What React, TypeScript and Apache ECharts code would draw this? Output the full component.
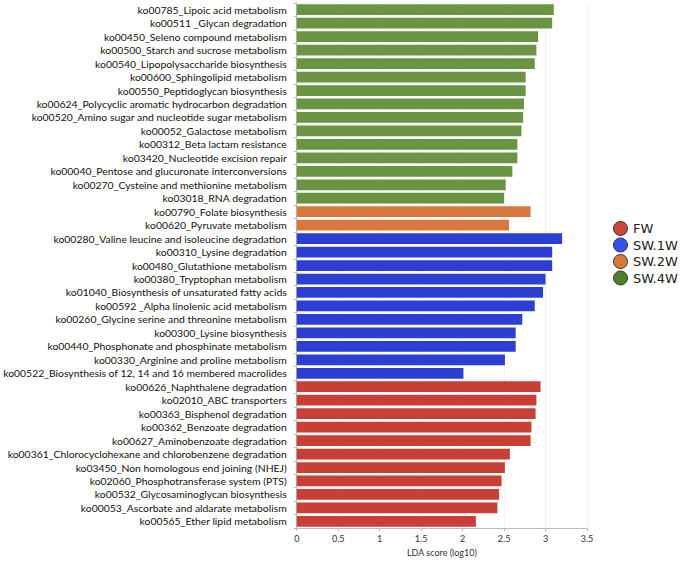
import React, { useEffect, useRef } from "react";
import * as echarts from "echarts";

const categories = [
  "ko00785_Lipoic acid metabolism",
  "ko00511 _Glycan degradation",
  "ko00450_Seleno compound metabolism",
  "ko00500_Starch and sucrose metabolism",
  "ko00540_Lipopolysaccharide biosynthesis",
  "ko00600_Sphingolipid metabolism",
  "ko00550_Peptidoglycan biosynthesis",
  "ko00624_Polycyclic aromatic hydrocarbon degradation",
  "ko00520_Amino sugar and nucleotide sugar metabolism",
  "ko00052_Galactose metabolism",
  "ko00312_Beta lactam resistance",
  "ko03420_Nucleotide excision repair",
  "ko00040_Pentose and glucuronate interconversions",
  "ko00270_Cysteine and methionine metabolism",
  "ko03018_RNA degradation",
  "ko00790_Folate biosynthesis",
  "ko00620_Pyruvate metabolism",
  "ko00280_Valine leucine and isoleucine degradation",
  "ko00310_Lysine degradation",
  "ko00480_Glutathione metabolism",
  "ko00380_Tryptophan metabolism",
  "ko01040_Biosynthesis of unsaturated fatty acids",
  "ko00592 _Alpha linolenic acid metabolism",
  "ko00260_Glycine serine and threonine metabolism",
  "ko00300_Lysine biosynthesis",
  "ko00440_Phosphonate and phosphinate metabolism",
  "ko00330_Arginine and proline metabolism",
  "ko00522_Biosynthesis of 12, 14 and 16 membered macrolides",
  "ko00626_Naphthalene degradation",
  "ko02010_ABC transporters",
  "ko00363_Bisphenol degradation",
  "ko00362_Benzoate degradation",
  "ko00627_Aminobenzoate degradation",
  "ko00361_Chlorocyclohexane and chlorobenzene degradation",
  "ko03450_Non homologous end joining (NHEJ)",
  "ko02060_Phosphotransferase system (PTS)",
  "ko00532_Glycosaminoglycan biosynthesis",
  "ko00053_Ascorbate and aldarate metabolism",
  "ko00565_Ether lipid metabolism",
];

// LDA scores per group, in category order of each group
const sw4wValues = [3.1, 3.08, 2.91, 2.89, 2.87, 2.76, 2.76, 2.74, 2.73, 2.71, 2.66, 2.66, 2.6, 2.52, 2.5];
const sw2wValues = [2.82, 2.56];
const sw1wValues = [3.2, 3.08, 3.08, 3.0, 2.97, 2.87, 2.72, 2.64, 2.64, 2.51, 2.01];
const fwValues = [2.94, 2.89, 2.88, 2.83, 2.82, 2.57, 2.51, 2.47, 2.44, 2.42, 2.16];

const groupNames = ["FW", "SW.1W", "SW.2W", "SW.4W"];
const xTicks = { min: 0, max: 3.5, interval: 0.5 };

const barColors: Record<string, string> = {
  FW: "#c73f35",
  "SW.1W": "#2d3fd3",
  "SW.2W": "#d8773f",
  "SW.4W": "#6a9443",
};
const legendColors: Record<string, string> = {
  FW: "#d0453a",
  "SW.1W": "#3452f2",
  "SW.2W": "#d9783c",
  "SW.4W": "#4f7f2b",
};

function placed(values: number[], offset: number): (number | null)[] {
  const out: (number | null)[] = categories.map(() => null);
  values.forEach((v, i) => {
    out[offset + i] = v;
  });
  return out;
}

export default function App() {
  const ref = useRef<HTMLDivElement>(null);
  useEffect(() => {
    if (!ref.current) return;
    const chart = echarts.init(ref.current, null, { renderer: "svg" });
    const offsets: Record<string, number> = {
      "SW.4W": 0,
      "SW.2W": sw4wValues.length,
      "SW.1W": sw4wValues.length + sw2wValues.length,
      FW: sw4wValues.length + sw2wValues.length + sw1wValues.length,
    };
    const valuesOf: Record<string, number[]> = {
      FW: fwValues,
      "SW.1W": sw1wValues,
      "SW.2W": sw2wValues,
      "SW.4W": sw4wValues,
    };
    chart.setOption({
      animation: false,
      grid: { left: 292, right: 98, top: 3, height: 532 },
      legend: {
        orient: "vertical",
        left: 608,
        top: 216,
        itemWidth: 15,
        itemHeight: 14,
        itemGap: 1.5,
        icon: "circle",
        textStyle: { fontFamily: "DejaVu Sans", fontSize: 13, color: "#222" },
        data: groupNames.map((g) => ({
          name: g,
          itemStyle: { color: legendColors[g], borderColor: "#333", borderWidth: 1 },
        })),
      },
      xAxis: {
        type: "value",
        min: xTicks.min,
        max: xTicks.max,
        interval: xTicks.interval,
        name: "LDA score (log10)",
        nameLocation: "middle",
        nameGap: 17,
        nameTextStyle: { fontFamily: "Lato", fontSize: 9, color: "#333" },
        axisLine: { show: true, lineStyle: { color: "#bbb" } },
        axisTick: { show: true, length: 3, lineStyle: { color: "#bbb" } },
        axisLabel: { fontFamily: "Lato", fontSize: 9, color: "#333", margin: 6 },
        splitLine: { show: true, lineStyle: { color: "#f0f0f0" } },
      },
      yAxis: {
        type: "category",
        inverse: true,
        data: categories,
        axisLine: { show: true, lineStyle: { color: "#bbb" } },
        axisTick: { show: true, length: 3, lineStyle: { color: "#bbb" } },
        axisLabel: { fontFamily: "Lato", fontSize: 10.4, color: "#111", margin: 10, interval: 0 },
        splitLine: { show: false },
      },
      series: groupNames.map((g) => ({
        name: g,
        type: "bar",
        stack: "all",
        barWidth: "80%",
        itemStyle: { color: barColors[g] },
        data: placed(valuesOf[g], offsets[g]),
      })),
    });
    return () => chart.dispose();
  }, []);
  return <div ref={ref} style={{ width: 685, height: 562, position: "absolute", left: 0, top: 0 }} />;
}
